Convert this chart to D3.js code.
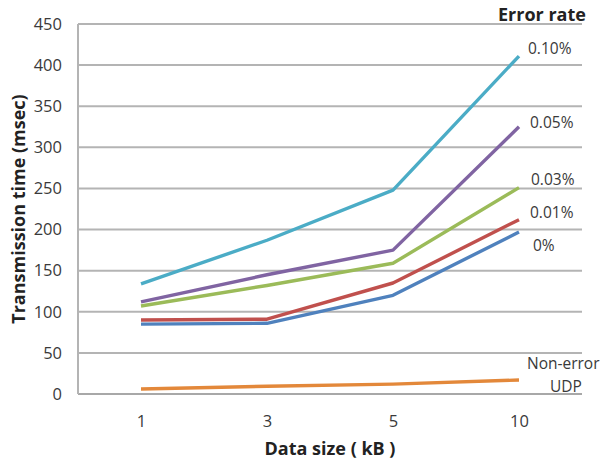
<!DOCTYPE html>
<html><head><meta charset="utf-8">
<script src="https://cdn.jsdelivr.net/npm/d3@7"></script>
<style>body{margin:0;background:#fff;} text{font-family:"Open Sans","Liberation Sans",sans-serif;}</style>
</head><body><svg id="c" width="600" height="463"></svg>
<script>
const categories = ["1","3","5","10"];
const yTicks = [0,50,100,150,200,250,300,350,400,450];
const seriesNames = ["0.10%","0.05%","0.03%","0.01%","0%","Non-error UDP"];
const s010 = [134,187,248,411];
const s005 = [112,145,175,325];
const s003 = [107,132,159,251];
const s001 = [90,91,135,212];
const s000 = [85,86,120,197];
const sUdp = [6,9.5,12,17];
const colors = ["#4BACC6","#8064A2","#9BBB59","#C0504D","#4F81BD","#E3883A"];

const series = [s010,s005,s003,s001,s000,sUdp];
const svg = d3.select("#c");
const L=78,R=582,T=24,B=394;
const x = d3.scalePoint().domain(categories).range([L,R]).padding(0.5);
const y = d3.scaleLinear().domain([0,450]).range([B,T]);

// gridlines
svg.append("g").selectAll("line").data(yTicks).join("line")
  .attr("x1",L).attr("x2",R).attr("y1",d=>y(d)).attr("y2",d=>y(d))
  .attr("stroke",d=>d===0?"#a8a8a8":"#b4b4b4").attr("stroke-width",2);
svg.append("line").attr("x1",L).attr("x2",L).attr("y1",T).attr("y2",B).attr("stroke","#b4b4b4").attr("stroke-width",2);

// y axis labels
const ya = svg.append("g").attr("transform",`translate(${L},0)`).call(d3.axisLeft(y).tickValues(yTicks).tickSize(0).tickPadding(16));
ya.select(".domain").remove();
ya.selectAll("text").attr("font-size",16.5).attr("fill","#3a3a3a").style("font-family",'"Open Sans",sans-serif');

const xa = svg.append("g").attr("transform",`translate(0,${B})`).call(d3.axisBottom(x).tickSize(0).tickPadding(21));
xa.select(".domain").remove();
xa.selectAll("text").attr("font-size",16.5).attr("fill","#3a3a3a").style("font-family",'"Open Sans",sans-serif');

// lines
const line = d3.line().x((d,i)=>x(categories[i])).y(d=>y(d));
svg.append("g").selectAll("path").data(series).join("path")
  .attr("d",line).attr("fill","none").attr("stroke",(d,i)=>colors[i]).attr("stroke-width",3.4).attr("stroke-linejoin","round");

// labels
const lab = [
 {t:"0.10%",x:528,y:54},{t:"0.05%",x:530,y:128},{t:"0.03%",x:531,y:185},
 {t:"0.01%",x:530,y:218},{t:"0%",x:533,y:251}
];
svg.append("g").selectAll("text").data(lab).join("text")
  .attr("x",d=>d.x).attr("y",d=>d.y).text(d=>d.t).attr("font-size",15.5).attr("fill","#3a3a3a");
svg.append("text").attr("x",527).attr("y",369).attr("font-size",15.5).attr("fill","#3a3a3a").text("Non-error");
svg.append("text").attr("x",550).attr("y",392).attr("font-size",15.5).attr("fill","#3a3a3a").text("UDP");
svg.append("text").attr("x",498).attr("y",21).attr("font-size",18).attr("font-weight","bold").attr("fill","#222").text("Error rate");

svg.append("text").attr("transform",`translate(25,${(T+B)/2}) rotate(-90)`).attr("text-anchor","middle")
  .attr("font-size",18).attr("font-weight","bold").attr("fill","#222").text("Transmission time (msec)");
svg.append("text").attr("x",330).attr("y",455).attr("text-anchor","middle")
  .attr("font-size",18).attr("font-weight","bold").attr("fill","#222").text("Data size ( kB )");
</script></body></html>
